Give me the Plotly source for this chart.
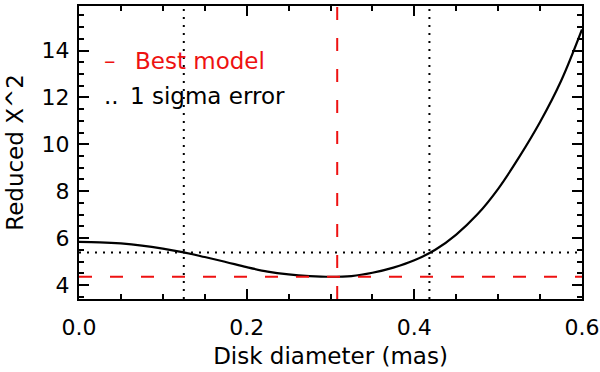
import plotly.graph_objects as go

# reduced chi^2 vs uniform disk diameter
diam = [0.0, 0.025, 0.05, 0.075, 0.1, 0.125, 0.15, 0.175, 0.2, 0.225, 0.25, 0.275,
        0.3, 0.325, 0.35, 0.375, 0.4, 0.425, 0.45, 0.475, 0.5, 0.525, 0.55, 0.575, 0.6]
chi2 = [5.84, 5.82, 5.77, 5.68, 5.55, 5.39, 5.19, 4.98, 4.76, 4.57, 4.45, 4.38,
        4.35, 4.38, 4.52, 4.74, 5.05, 5.5, 6.15, 7.0, 8.1, 9.45, 10.95, 12.7, 14.9]

best_diam = 0.308
best_chi2 = 4.35
sigma_lo = 0.125
sigma_hi = 0.418
sigma_chi2 = 5.38

x_range = [0.0, 0.6]
y_range = [3.4, 15.9]

font = "DejaVu Sans"
red = "#ee1111"

fig = go.Figure()

fig.add_trace(go.Scatter(x=diam, y=chi2, mode="lines", line_shape="spline",
                         line=dict(color="black", width=2.2), showlegend=False))

# 1 sigma limits (dotted)
for xv in [sigma_lo, sigma_hi]:
    fig.add_trace(go.Scatter(x=[xv, xv], y=y_range, mode="lines", showlegend=False,
                             line=dict(color="black", width=2, dash="2px,6px")))
fig.add_trace(go.Scatter(x=x_range, y=[sigma_chi2, sigma_chi2], mode="lines", showlegend=False,
                         line=dict(color="black", width=2, dash="2px,6px")))

# best model (red dashed)
fig.add_trace(go.Scatter(x=[best_diam, best_diam], y=y_range, mode="lines", showlegend=False,
                         line=dict(color=red, width=2, dash="13px,18px")))
fig.add_trace(go.Scatter(x=x_range, y=[best_chi2, best_chi2], mode="lines", showlegend=False,
                         line=dict(color=red, width=2, dash="13px,18px")))

# legend written as text, IDL style: symbol then label
legend_rows = [("–", "Best model", red, 0.812), ("..", "1 sigma error", "black", 0.693)]
for sym, label, col, yy in legend_rows:
    fig.add_annotation(x=0.046, y=yy, xref="paper", yref="paper", xanchor="left", yanchor="middle",
                       text=sym, showarrow=False, font=dict(family=font, size=23, color=col))
    fig.add_annotation(x=0.107 if col == red else 0.097, y=yy, xref="paper", yref="paper",
                       xanchor="left", yanchor="middle",
                       text=label, showarrow=False, font=dict(family=font, size=23, color=col))

axis_common = dict(showline=True, linecolor="black", linewidth=2, mirror="allticks",
                   ticks="inside", ticklen=10, tickwidth=1.5, tickcolor="black",
                   showgrid=False, zeroline=False, automargin=False,
                   tickfont=dict(family=font, size=22, color="black"))

fig.update_xaxes(range=x_range, dtick=0.2, tickformat=".1f",
                 minor=dict(dtick=0.05, ticks="inside", ticklen=5, tickwidth=1.5, tickcolor="black"),
                 ticklabelstandoff=8,
                 title=dict(text="Disk diameter (mas)", standoff=8,
                            font=dict(family=font, size=23, color="black")),
                 **axis_common)
fig.update_yaxes(range=y_range, dtick=2,
                 minor=dict(dtick=0.5, ticks="inside", ticklen=5, tickwidth=1.5, tickcolor="black"),
                 ticklabelstandoff=3,
                 title=dict(text="Reduced X^2", standoff=12,
                            font=dict(family=font, size=23, color="black")),
                 **axis_common)

fig.update_layout(width=600, height=372, margin=dict(l=79, r=18, t=6, b=73),
                  plot_bgcolor="white", paper_bgcolor="white")

# drop the default page margin so the figure sits at the window's corner
fig.write_html("out.html", config={"displayModeBar": False},
               post_script="document.body.style.margin='0';")
